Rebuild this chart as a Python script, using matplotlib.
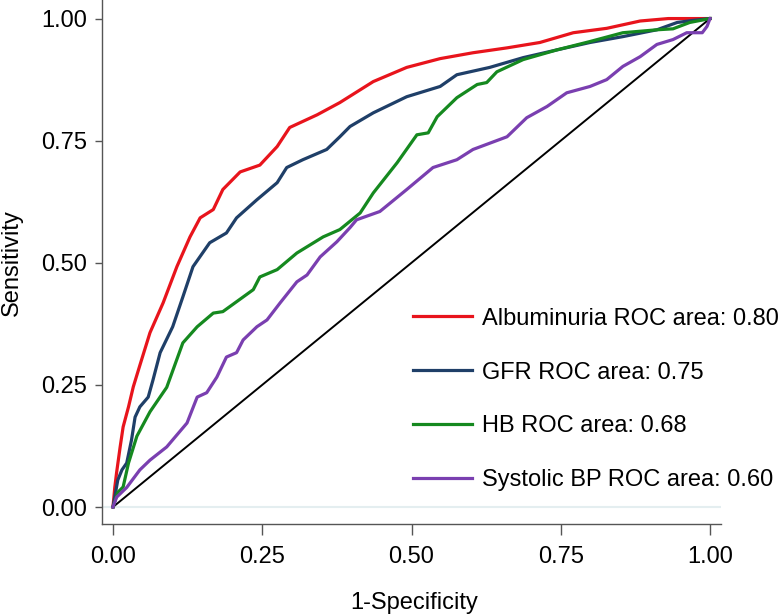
import matplotlib
matplotlib.use('Agg')
import matplotlib.pyplot as plt

plt.rcParams['font.family'] = ['Liberation Sans', 'DejaVu Sans']

# ROC curves (1-specificity, sensitivity)
alb_x = [0, 0.003, 0.006, 0.012, 0.017, 0.026, 0.034, 0.045, 0.062, 0.084, 0.107, 0.129,
         0.146, 0.168, 0.184, 0.213, 0.246, 0.275, 0.296, 0.342, 0.38, 0.436, 0.492, 0.548,
         0.603, 0.66, 0.715, 0.771, 0.827, 0.883, 0.93, 1.0]
alb_y = [0, 0.04, 0.07, 0.123, 0.164, 0.205, 0.246, 0.29, 0.357, 0.418, 0.492, 0.553,
         0.592, 0.609, 0.65, 0.686, 0.70, 0.738, 0.777, 0.803, 0.828, 0.871, 0.90, 0.918,
         0.93, 0.94, 0.951, 0.971, 0.98, 0.995, 1.0, 1.0]

gfr_x = [0, 0.008, 0.015, 0.023, 0.031, 0.037, 0.045, 0.059, 0.067, 0.079, 0.1, 0.117,
         0.134, 0.162, 0.19, 0.207, 0.241, 0.275, 0.291, 0.318, 0.358, 0.38, 0.397, 0.436,
         0.492, 0.548, 0.576, 0.631, 0.687, 0.744, 0.799, 0.854, 0.911, 0.945, 0.97, 1.0]
gfr_y = [0, 0.055, 0.076, 0.09, 0.137, 0.184, 0.205, 0.225, 0.26, 0.316, 0.369, 0.43,
         0.492, 0.541, 0.561, 0.592, 0.629, 0.664, 0.695, 0.711, 0.732, 0.758, 0.779, 0.807,
         0.84, 0.861, 0.885, 0.90, 0.92, 0.936, 0.951, 0.963, 0.977, 0.992, 0.996, 1.0]

hb_x = [0, 0.008, 0.017, 0.026, 0.04, 0.062, 0.09, 0.117, 0.141, 0.168, 0.184, 0.218,
        0.235, 0.246, 0.275, 0.308, 0.352, 0.38, 0.414, 0.436, 0.476, 0.509, 0.528, 0.543,
        0.576, 0.61, 0.626, 0.643, 0.687, 0.744, 0.799, 0.854, 0.911, 0.938, 0.966, 1.0]
hb_y = [0, 0.03, 0.041, 0.09, 0.145, 0.195, 0.245, 0.336, 0.369, 0.397, 0.40, 0.43,
        0.445, 0.471, 0.486, 0.52, 0.553, 0.568, 0.602, 0.643, 0.705, 0.762, 0.766, 0.799,
        0.838, 0.865, 0.869, 0.891, 0.916, 0.936, 0.953, 0.971, 0.977, 0.979, 0.992, 1.0]

sbp_x = [0, 0.006, 0.023, 0.045, 0.062, 0.09, 0.124, 0.141, 0.157, 0.174, 0.19, 0.207,
         0.218, 0.241, 0.258, 0.28, 0.308, 0.325, 0.347, 0.375, 0.397, 0.408, 0.447, 0.492,
         0.536, 0.576, 0.603, 0.66, 0.693, 0.727, 0.76, 0.799, 0.827, 0.854, 0.883, 0.911,
         0.938, 0.961, 0.987, 0.995, 1.0]
sbp_y = [0, 0.02, 0.04, 0.076, 0.096, 0.123, 0.172, 0.225, 0.234, 0.266, 0.307, 0.316,
         0.342, 0.369, 0.383, 0.418, 0.461, 0.475, 0.512, 0.543, 0.572, 0.588, 0.605, 0.65,
         0.695, 0.711, 0.732, 0.758, 0.797, 0.82, 0.848, 0.861, 0.875, 0.902, 0.922, 0.947,
         0.957, 0.971, 0.971, 0.984, 1.0]

labels = ['Albuminuria ROC area: 0.80', 'GFR ROC area: 0.75',
          'HB ROC area: 0.68', 'Systolic BP ROC area: 0.60']
colors = ['#e8141c', '#1f3f68', '#15891f', '#7a3fb0']
ticks = [0, 0.25, 0.5, 0.75, 1.0]
tick_labels = ['0.00', '0.25', '0.50', '0.75', '1.00']

fig = plt.figure(figsize=(7.83, 6.14), dpi=100)
ax = fig.add_axes([102 / 783, 1 - 524 / 614, 619 / 783, 524 / 614])

ax.axhline(0, color='#e4eef0', lw=1.5, zorder=1)
ax.plot([0, 1], [0, 1], color='black', lw=1.4, zorder=2)
for xs, ys, c, lab in zip([alb_x, gfr_x, hb_x, sbp_x], [alb_y, gfr_y, hb_y, sbp_y],
                          colors, labels):
    ax.plot(xs, ys, color=c, lw=2.3, label=lab, zorder=3)

ax.set_xlim(-0.0184, 1.0184)
ax.set_ylim(-0.0348, 1.038)
ax.set_xticks(ticks)
ax.set_xticklabels(tick_labels)
ax.set_yticks(ticks)
ax.set_yticklabels(tick_labels)
ax.tick_params(axis='x', length=8, width=1, color='#555555', pad=8, labelsize=17)
ax.tick_params(axis='y', length=5, width=1, color='#555555', pad=6, labelsize=17)
for s in ['top', 'right']:
    ax.spines[s].set_visible(False)
for s in ['left', 'bottom']:
    ax.spines[s].set_color('#555555')
    ax.spines[s].set_linewidth(1.0)

fig.text(414 / 783, 1 - 603 / 614, '1-Specificity', ha='center', va='center', fontsize=17)
fig.text(12 / 783, 1 - 263 / 614, 'Sensitivity', ha='center', va='center',
         rotation=90, fontsize=17)

ax.legend(loc='center left', bbox_to_anchor=(413 / 783, 1 - 399.5 / 614),
          bbox_transform=fig.transFigure, frameon=False, fontsize=17,
          handlelength=2.5, handletextpad=0.42, labelspacing=1.35,
          borderpad=0, borderaxespad=0)

fig.savefig('out.png', dpi=100)
